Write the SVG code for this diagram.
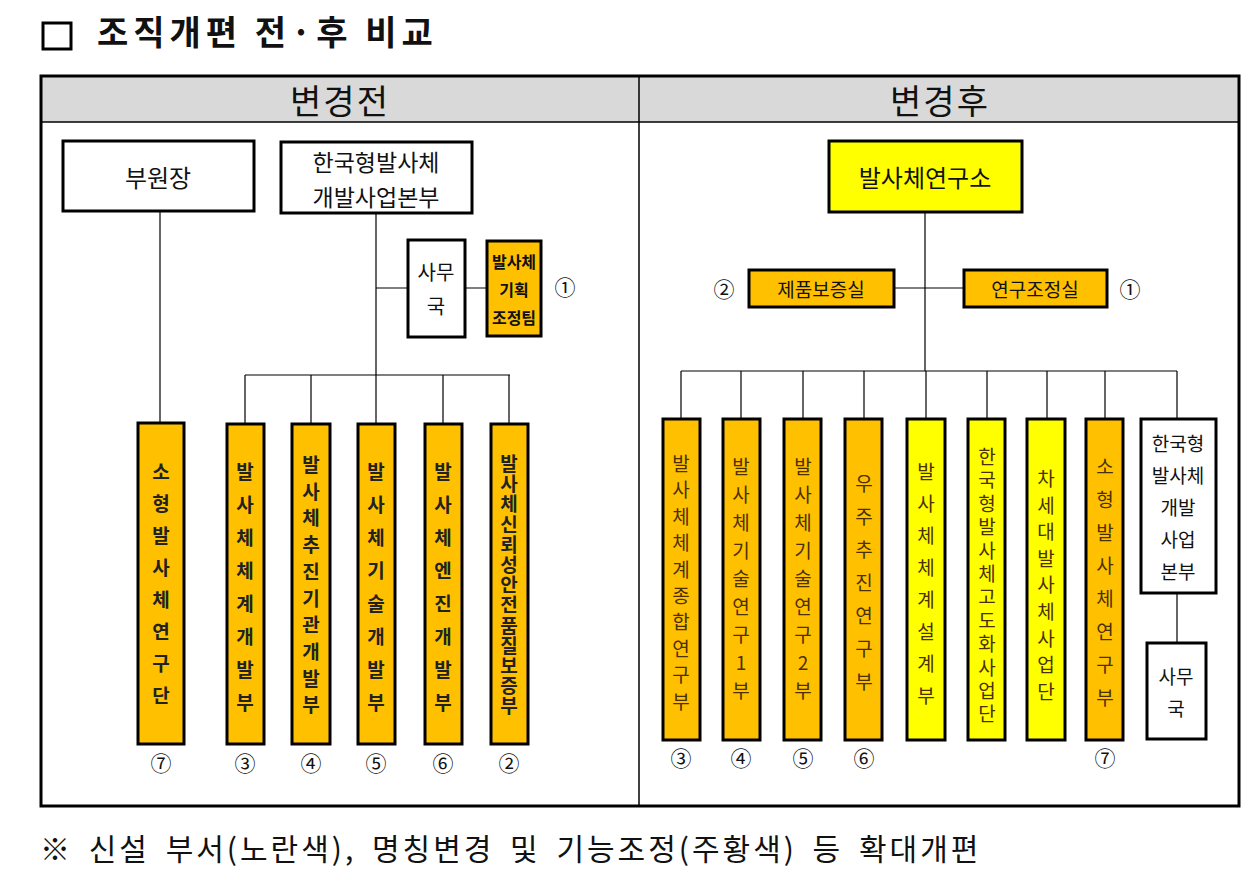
<svg xmlns="http://www.w3.org/2000/svg" width="1260" height="878" viewBox="0 0 1260 878">
<style>
text{font-family:"Noto Sans CJK KR","Liberation Sans",sans-serif;fill:#111}
.b{stroke:#000;stroke-width:3}
.w{fill:#fff}.o{fill:#FFC000}.y{fill:#FFFF00}
.c{stroke:#000;stroke-width:1.2;fill:none}
.m{text-anchor:middle;dominant-baseline:central}
.v{font-size:19px;text-anchor:middle;dominant-baseline:central;fill:#4a3000}
.vb{font-weight:bold;fill:#222}
.n{font-size:21px;text-anchor:middle;dominant-baseline:central}
</style>
<rect width="1260" height="878" fill="#fff"/>
<rect x="43" y="23" width="28" height="26" fill="none" stroke="#000" stroke-width="3"/>
<text x="97" y="45" font-size="34" font-weight="bold" letter-spacing="5">조직개편 전·후 비교</text>
<rect x="41" y="76" width="1198" height="46" fill="#d9d9d9"/>
<line x1="41" y1="122" x2="1239" y2="122" stroke="#000" stroke-width="1.5"/>
<line x1="639" y1="76" x2="639" y2="806" stroke="#000" stroke-width="1.5"/>
<rect x="41" y="76" width="1198" height="730" fill="none" stroke="#000" stroke-width="3"/>
<text x="340" y="99" font-size="34" class="m" letter-spacing="2">변경전</text>
<text x="940" y="99" font-size="34" class="m" letter-spacing="2">변경후</text>
<g id="connectors">
<path class="c" d="M160 211V423M376 213V375M245 375H510M245 375V423M311 375V423M376 375V423M443 375V423M509 375V423M376 288H408M465 288H487"/>
<path class="c" d="M925 212V371M894 288H964M681 371H1177M681 371V419M741 371V419M803 371V419M864 371V419M926 371V419M987 371V419M1047 371V419M1105 371V419M1177 371V419M1177 593V643"/>
</g>
<g id="부원장"><rect class="b w" x="63" y="141" width="191" height="70"/><text x="158" y="176" font-size="24" class="m">부원장</text></g>
<g id="본부L"><rect class="b w" x="281" y="142" width="191" height="71"/><text x="376" y="161" font-size="23" class="m">한국형발사체</text><text x="376" y="196" font-size="23" class="m">개발사업본부</text></g>
<g id="사무국L"><rect class="b w" x="408" y="240" width="57" height="97"/><text x="436" y="271" font-size="20" class="m">사무</text><text x="436" y="305" font-size="20" class="m">국</text></g>
<g id="기획조정팀"><rect class="b o" x="487" y="241" width="54" height="95"/><text x="514" y="261" font-size="16" font-weight="bold" class="m">발사체</text><text x="514" y="289" font-size="16" font-weight="bold" class="m">기획</text><text x="514" y="317" font-size="16" font-weight="bold" class="m">조정팀</text></g>
<text x="565" y="286" class="n">①</text>
<g id="L1"><rect class="b o" x="138" y="423" width="46" height="321"/><text class="v vb"><tspan x="161" y="470">소</tspan><tspan x="161" dy="32">형</tspan><tspan x="161" dy="32">발</tspan><tspan x="161" dy="32">사</tspan><tspan x="161" dy="32">체</tspan><tspan x="161" dy="32">연</tspan><tspan x="161" dy="32">구</tspan><tspan x="161" dy="32">단</tspan></text></g>
<g id="L2"><rect class="b o" x="227" y="424" width="37" height="320"/><text class="v vb"><tspan x="245" y="470">발</tspan><tspan x="245" dy="33">사</tspan><tspan x="245" dy="33">체</tspan><tspan x="245" dy="33">체</tspan><tspan x="245" dy="33">계</tspan><tspan x="245" dy="33">개</tspan><tspan x="245" dy="33">발</tspan><tspan x="245" dy="33">부</tspan></text></g>
<g id="L3"><rect class="b o" x="292" y="424" width="38" height="320"/><text class="v vb"><tspan x="311" y="463">발</tspan><tspan x="311" dy="26.7">사</tspan><tspan x="311" dy="26.7">체</tspan><tspan x="311" dy="26.7">추</tspan><tspan x="311" dy="26.7">진</tspan><tspan x="311" dy="26.7">기</tspan><tspan x="311" dy="26.7">관</tspan><tspan x="311" dy="26.7">개</tspan><tspan x="311" dy="26.7">발</tspan><tspan x="311" dy="26.7">부</tspan></text></g>
<g id="L4"><rect class="b o" x="358" y="424" width="37" height="320"/><text class="v vb"><tspan x="376" y="470">발</tspan><tspan x="376" dy="33">사</tspan><tspan x="376" dy="33">체</tspan><tspan x="376" dy="33">기</tspan><tspan x="376" dy="33">술</tspan><tspan x="376" dy="33">개</tspan><tspan x="376" dy="33">발</tspan><tspan x="376" dy="33">부</tspan></text></g>
<g id="L5"><rect class="b o" x="425" y="424" width="37" height="320"/><text class="v vb"><tspan x="443" y="470">발</tspan><tspan x="443" dy="33">사</tspan><tspan x="443" dy="33">체</tspan><tspan x="443" dy="33">엔</tspan><tspan x="443" dy="33">진</tspan><tspan x="443" dy="33">개</tspan><tspan x="443" dy="33">발</tspan><tspan x="443" dy="33">부</tspan></text></g>
<g id="L6"><rect class="b o" x="491" y="424" width="37" height="320"/><text class="v vb" font-size="17"><tspan x="509" y="462">발</tspan><tspan x="509" dy="20.2">사</tspan><tspan x="509" dy="20.2">체</tspan><tspan x="509" dy="20.2">신</tspan><tspan x="509" dy="20.2">뢰</tspan><tspan x="509" dy="20.2">성</tspan><tspan x="509" dy="20.2">안</tspan><tspan x="509" dy="20.2">전</tspan><tspan x="509" dy="20.2">품</tspan><tspan x="509" dy="20.2">질</tspan><tspan x="509" dy="20.2">보</tspan><tspan x="509" dy="20.2">증</tspan><tspan x="509" dy="20.2">부</tspan></text></g>
<text x="161" y="762" class="n">⑦</text><text x="245" y="762" class="n">③</text><text x="311" y="762" class="n">④</text><text x="376" y="762" class="n">⑤</text><text x="443" y="762" class="n">⑥</text><text x="509" y="762" class="n">②</text>
<g id="발사체연구소"><rect class="b y" x="829" y="141" width="193" height="71"/><text x="925" y="176" font-size="24" class="m">발사체연구소</text></g>
<g id="제품보증실"><rect class="b o" x="749" y="270" width="145" height="37"/><text x="821" y="288" font-size="19" class="m" fill="#4a3000">제품보증실</text></g>
<g id="연구조정실"><rect class="b o" x="964" y="270" width="143" height="37"/><text x="1035" y="288" font-size="19" class="m" fill="#4a3000">연구조정실</text></g>
<text x="724" y="288" class="n">②</text><text x="1130" y="288" class="n">①</text>
<g id="R1"><rect class="b o" x="663" y="419" width="37" height="321"/><text class="v"><tspan x="681" y="462">발</tspan><tspan x="681" dy="26.4">사</tspan><tspan x="681" dy="26.4">체</tspan><tspan x="681" dy="26.4">체</tspan><tspan x="681" dy="26.4">계</tspan><tspan x="681" dy="26.4">종</tspan><tspan x="681" dy="26.4">합</tspan><tspan x="681" dy="26.4">연</tspan><tspan x="681" dy="26.4">구</tspan><tspan x="681" dy="26.4">부</tspan></text></g>
<g id="R2"><rect class="b o" x="723" y="419" width="37" height="321"/><text class="v"><tspan x="741" y="465">발</tspan><tspan x="741" dy="28">사</tspan><tspan x="741" dy="28">체</tspan><tspan x="741" dy="28">기</tspan><tspan x="741" dy="28">술</tspan><tspan x="741" dy="28">연</tspan><tspan x="741" dy="28">구</tspan><tspan x="741" dy="28">1</tspan><tspan x="741" dy="28">부</tspan></text></g>
<g id="R3"><rect class="b o" x="784" y="419" width="37" height="321"/><text class="v"><tspan x="803" y="465">발</tspan><tspan x="803" dy="28">사</tspan><tspan x="803" dy="28">체</tspan><tspan x="803" dy="28">기</tspan><tspan x="803" dy="28">술</tspan><tspan x="803" dy="28">연</tspan><tspan x="803" dy="28">구</tspan><tspan x="803" dy="28">2</tspan><tspan x="803" dy="28">부</tspan></text></g>
<g id="R4"><rect class="b o" x="845" y="419" width="37" height="321"/><text class="v"><tspan x="864" y="482">우</tspan><tspan x="864" dy="33">주</tspan><tspan x="864" dy="33">추</tspan><tspan x="864" dy="33">진</tspan><tspan x="864" dy="33">연</tspan><tspan x="864" dy="33">구</tspan><tspan x="864" dy="33">부</tspan></text></g>
<g id="R5"><rect class="b y" x="907" y="419" width="38" height="321"/><text class="v"><tspan x="926" y="470">발</tspan><tspan x="926" dy="32">사</tspan><tspan x="926" dy="32">체</tspan><tspan x="926" dy="32">체</tspan><tspan x="926" dy="32">계</tspan><tspan x="926" dy="32">설</tspan><tspan x="926" dy="32">계</tspan><tspan x="926" dy="32">부</tspan></text></g>
<g id="R6"><rect class="b y" x="968" y="419" width="37" height="321"/><text class="v"><tspan x="987" y="455">한</tspan><tspan x="987" dy="23.4">국</tspan><tspan x="987" dy="23.4">형</tspan><tspan x="987" dy="23.4">발</tspan><tspan x="987" dy="23.4">사</tspan><tspan x="987" dy="23.4">체</tspan><tspan x="987" dy="23.4">고</tspan><tspan x="987" dy="23.4">도</tspan><tspan x="987" dy="23.4">화</tspan><tspan x="987" dy="23.4">사</tspan><tspan x="987" dy="23.4">업</tspan><tspan x="987" dy="23.4">단</tspan></text></g>
<g id="R7"><rect class="b y" x="1027" y="419" width="38" height="321"/><text class="v"><tspan x="1046" y="477">차</tspan><tspan x="1046" dy="26.6">세</tspan><tspan x="1046" dy="26.6">대</tspan><tspan x="1046" dy="26.6">발</tspan><tspan x="1046" dy="26.6">사</tspan><tspan x="1046" dy="26.6">체</tspan><tspan x="1046" dy="26.6">사</tspan><tspan x="1046" dy="26.6">업</tspan><tspan x="1046" dy="26.6">단</tspan></text></g>
<g id="R8"><rect class="b o" x="1086" y="419" width="37" height="321"/><text class="v"><tspan x="1105" y="465">소</tspan><tspan x="1105" dy="33">형</tspan><tspan x="1105" dy="33">발</tspan><tspan x="1105" dy="33">사</tspan><tspan x="1105" dy="33">체</tspan><tspan x="1105" dy="33">연</tspan><tspan x="1105" dy="33">구</tspan><tspan x="1105" dy="33">부</tspan></text></g>
<g id="본부R"><rect class="b w" x="1141" y="419" width="75" height="174"/><text font-size="19" class="m"><tspan x="1178" y="442">한국형</tspan><tspan x="1178" dy="32">발사체</tspan><tspan x="1178" dy="32">개발</tspan><tspan x="1178" dy="32">사업</tspan><tspan x="1178" dy="32">본부</tspan></text></g>
<g id="사무국R"><rect class="b w" x="1147" y="643" width="59" height="96"/><text x="1176" y="675" font-size="19" class="m">사무</text><text x="1176" y="707" font-size="19" class="m">국</text></g>
<text x="681" y="757" class="n">③</text><text x="741" y="757" class="n">④</text><text x="803" y="757" class="n">⑤</text><text x="864" y="757" class="n">⑥</text><text x="1105" y="757" class="n">⑦</text>
<text x="40" y="860" font-size="30" letter-spacing="3" word-spacing="6">※ 신설 부서(노란색), 명칭변경 및 기능조정(주황색) 등 확대개편</text>
</svg>
